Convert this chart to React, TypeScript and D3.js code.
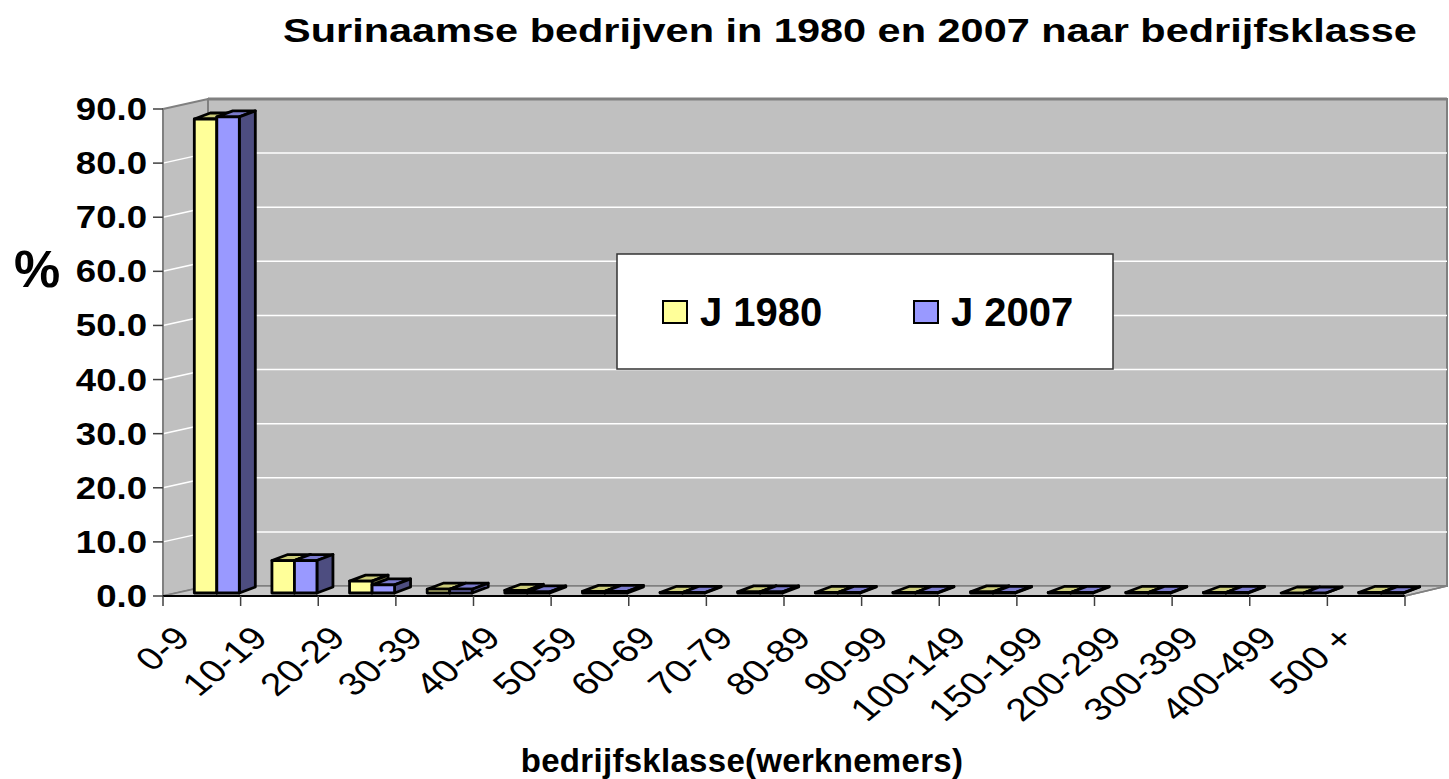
import React from "react";
import * as d3 from "d3";

const categories = [
  "0-9", "10-19", "20-29", "30-39", "40-49", "50-59", "60-69", "70-79",
  "80-89", "90-99", "100-149", "150-199", "200-299", "300-399", "400-499", "500 +",
];
const values1980 = [87.6, 6.0, 2.2, 0.7, 0.5, 0.3, 0.1, 0.2, 0.1, 0.1, 0.2, 0.1, 0.1, 0.1, 0.0, 0.1];
const values2007 = [88.0, 6.0, 1.5, 0.7, 0.2, 0.3, 0.1, 0.2, 0.1, 0.1, 0.1, 0.1, 0.1, 0.1, 0.0, 0.05];
const seriesNames = ["J 1980", "J 2007"];
const yTicks = [0, 10, 20, 30, 40, 50, 60, 70, 80, 90];

// face colours: front, top, side
const palette = [
  { front: "#FFFF99", top: "#CCCC7A", side: "#80804D" },
  { front: "#9999FF", top: "#7A7ACC", side: "#4D4D80" },
];

const W = 1449;
const H = 779;
const FONT = "'Liberation Sans', Arial, sans-serif";

// wall depth offset (oblique projection)
const DX = 45;
const DY = -10;
// bars: front face offset into the box, and bar depth
const BOX = 15, BOY = -3;
const BDX = 16, BDY = -6;

const pts = (p: [number, number][]) => p.map((d) => d.join(",")).join(" ");

export default function App() {
  const x = d3.scaleBand<string>().domain(categories).range([163, 1405]).paddingInner(0).paddingOuter(0);
  const y = d3.scaleLinear().domain([0, 90]).range([596, 109]);
  const step = x.step();
  const groupW = 45;
  const inner = d3.scaleBand<number>().domain([0, 1]).range([0, groupW]);

  const x0 = x.range()[0];
  const x1 = x.range()[1];
  const yBot = y(0);
  const yTop = y(90);

  const bars: JSX.Element[] = [];
  categories.forEach((c, i) => {
    const vals = [values1980[i], values2007[i]];
    vals.forEach((v, s) => {
      const left = (x(c) as number) + (step - groupW) / 2 + (inner(s) as number) + BOX;
      const w = inner.bandwidth();
      const bottom = yBot + BOY;
      const top = y(v) + BOY;
      const col = palette[s];
      bars.push(
        <g key={`${c}-${s}`} stroke="#000" strokeWidth={2.8} strokeLinejoin="round">
          <polygon
            points={pts([[left, top], [left + BDX, top + BDY], [left + w + BDX, top + BDY], [left + w, top]])}
            fill={col.top}
          />
          <polygon
            points={pts([[left + w, top], [left + w + BDX, top + BDY], [left + w + BDX, bottom + BDY], [left + w, bottom]])}
            fill={col.side}
          />
          <rect x={left} y={top} width={w} height={bottom - top} fill={col.front} />
        </g>
      );
    });
  });

  return (
    <svg width={W} height={H} style={{ position: "absolute", left: 0, top: 0, background: "#fff" }}>
      <rect width={W} height={H} fill="#fff" />
      {/* title */}
      <text
        transform={`translate(850,42) scale(1.22,1)`}
        textAnchor="middle"
        fontFamily={FONT}
        fontWeight="bold"
        fontSize={34}
      >
        Surinaamse bedrijven in 1980 en 2007 naar bedrijfsklasse
      </text>

      {/* walls */}
      <polygon points={pts([[x0 + DX, yTop + DY], [x1 + DX - 3, yTop + DY], [x1 + DX - 3, yBot + DY], [x0 + DX, yBot + DY]])} fill="#C0C0C0" stroke="#808080" strokeWidth={2} />
      <polygon points={pts([[x0, yTop], [x0 + DX, yTop + DY], [x0 + DX, yBot + DY], [x0, yBot]])} fill="#C0C0C0" stroke="#808080" strokeWidth={2} />
      <polygon points={pts([[x0, yBot], [x0 + DX, yBot + DY], [x1 + DX - 3, yBot + DY], [x1, yBot]])} fill="#C8C8C8" stroke="#808080" strokeWidth={1.5} />
      {/* gridlines */}
      {yTicks.slice(1, -1).map((t) => (
        <g key={t} stroke="#fff" strokeWidth={1.5}>
          <line x1={x0} y1={y(t)} x2={x0 + DX} y2={y(t) + DY} />
          <line x1={x0 + DX} y1={y(t) + DY} x2={x1 + DX - 3} y2={y(t) + DY} />
        </g>
      ))}
      <line x1={x0 + DX} y1={yTop + DY} x2={x1 + DX - 3} y2={yTop + DY} stroke="#808080" strokeWidth={3} />

      {bars}

      {/* y axis */}
      <line x1={x0} y1={yTop} x2={x0} y2={yBot} stroke="#808080" strokeWidth={2} />
      {yTicks.map((t) => (
        <g key={t}>
          <line x1={x0 - 10} y1={y(t)} x2={x0} y2={y(t)} stroke="#404040" strokeWidth={1.5} />
          <text
            transform={`translate(${x0 - 16},${y(t) + 11}) scale(1.18,1)`}
            textAnchor="end"
            fontFamily={FONT}
            fontWeight="bold"
            fontSize={31}
          >
            {t.toFixed(1)}
          </text>
        </g>
      ))}
      <text x={14} y={287} fontFamily={FONT} fontWeight="bold" fontSize={52}>%</text>

      {/* x axis */}
      <line x1={x0} y1={yBot} x2={x1} y2={yBot} stroke="#000" strokeWidth={2} />
      <line x1={x1} y1={yBot} x2={x1 + DX - 3} y2={yBot + DY} stroke="#808080" strokeWidth={1.5} />
      {d3.range(categories.length + 1).map((i) => (
        <line key={i} x1={x0 + i * step} y1={yBot} x2={x0 + i * step} y2={yBot + 10} stroke="#404040" strokeWidth={1.5} />
      ))}
      {categories.map((c) => (
        <text
          key={c}
          transform={`translate(${(x(c) as number) + step / 2 - 10},640) scale(1.22,1) rotate(-45)`}
          textAnchor="end"
          fontFamily={FONT}
          fontSize={32}
        >
          {c}
        </text>
      ))}
      <text x={742} y={772} textAnchor="middle" fontFamily={FONT} fontWeight="bold" fontSize={33} letterSpacing={0.3}>
        bedrijfsklasse(werknemers)
      </text>

      {/* legend */}
      <rect x={617} y={254} width={496} height={115} fill="#fff" stroke="#333" strokeWidth={1.5} />
      {seriesNames.map((n, i) => {
        const lx = i === 0 ? 663 : 914;
        return (
          <g key={n}>
            <rect x={lx} y={301} width={24} height={22} fill={palette[i].front} stroke="#000" strokeWidth={2} />
            <text x={lx + 37} y={326} fontFamily={FONT} fontWeight="bold" fontSize={40}>{n}</text>
          </g>
        );
      })}
    </svg>
  );
}
